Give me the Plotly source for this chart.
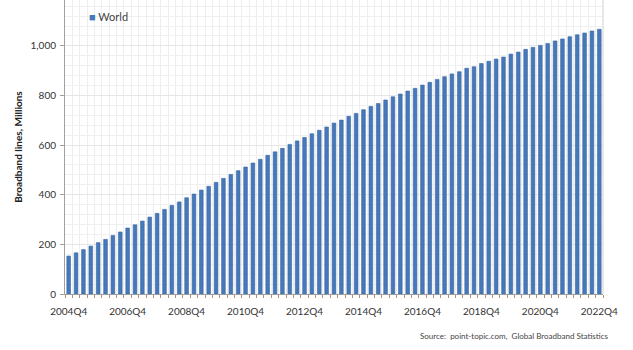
import plotly.graph_objects as go

# Quarterly world broadband lines (millions), 2004Q4 .. 2022Q4
quarters = ["2004Q4"] + [f"{y}Q{q}" for y in range(2005, 2023) for q in (1, 2, 3, 4)]

lines_millions = [
    153, 166, 179, 193, 207, 220, 236, 250, 266, 279, 294, 310, 325, 341, 357, 371,
    388, 403, 419, 434, 450, 466, 482, 497, 512, 528, 543, 559, 573, 587, 603, 617,
    631, 646, 660, 673, 689, 701, 716, 728, 743, 756, 768, 782, 795, 806, 818, 829,
    842, 853, 865, 876, 887, 896, 910, 916, 929, 938, 947, 955, 967, 975, 986, 994,
    1002, 1010, 1020, 1028, 1037, 1045, 1052, 1060, 1067,
]

tick_labels = [q for q in quarters if q.endswith("Q4") and (int(q[:4]) % 2 == 0)]
tick_positions = [quarters.index(t) for t in tick_labels]

FONT = "Lato, Liberation Sans, sans-serif"
BAR_COLOR = "#4679BA"

fig = go.Figure(
    go.Bar(
        x=list(range(len(quarters))),
        y=lines_millions,
        name="World",
        width=0.5,
        marker=dict(color=BAR_COLOR, line=dict(color="#3A67A3", width=0.6)),
        hovertext=quarters,
        showlegend=False,
    )
)

fig.update_layout(
    width=633,
    height=350,
    margin=dict(l=65, r=30, t=0, b=56),
    paper_bgcolor="white",
    plot_bgcolor="white",
    font=dict(family=FONT, size=10, color="#333333"),
    showlegend=False,
    bargap=0.5,
)

fig.update_xaxes(
    range=[-0.5, 72.5],
    tickvals=tick_positions,
    ticktext=tick_labels,
    showgrid=False,
    showline=True,
    linecolor="#a0a0a0",
    linewidth=1,
    ticks="",
    ticklabelstandoff=8,
    tickfont=dict(size=10, color="#333333"),
    minor=dict(
        tick0=-0.5, dtick=1, showgrid=True, gridcolor="#eeeeee",
        ticks="outside", ticklen=3, tickcolor="#b09070",
    ),
    zeroline=False,
)

fig.update_yaxes(
    range=[0, 1185],
    dtick=200,
    tickformat=",d",
    showgrid=True,
    gridcolor="#e6e6e6",
    showline=True,
    linecolor="#a0a0a0",
    linewidth=1,
    ticks="outside",
    ticklen=4,
    tickcolor="#a0a0a0",
    ticklabelstandoff=2,
    tickfont=dict(size=10, color="#333333"),
    minor=dict(dtick=40, showgrid=True, gridcolor="#f0f0f0"),
    zeroline=False,
    title=dict(
        text="<b>Broadband lines, Millions</b>",
        font=dict(size=10, color="#222222"),
        standoff=6,
    ),
)

# right-hand border of the plot area
fig.add_shape(
    type="line", xref="paper", yref="paper", x0=1, x1=1, y0=0, y1=1,
    line=dict(color="#d0d0d0", width=1),
)

# series key in the upper-left corner
fig.add_annotation(
    text=f"<span style='color:{BAR_COLOR}'>■</span> World",
    xref="paper", yref="paper", x=(87 - 65) / 538, y=1 - 17 / 294,
    xanchor="left", yanchor="middle", showarrow=False,
    font=dict(size=11, color="#444444", family=FONT),
)

fig.add_annotation(
    text="Source:  point-topic.com,  Global Broadband Statistics",
    xref="paper", yref="paper", x=1.015, y=-0.12,
    xanchor="right", yanchor="top", showarrow=False,
    font=dict(size=8, color="#444444", family=FONT),
)

fig.write_html("out.html")
